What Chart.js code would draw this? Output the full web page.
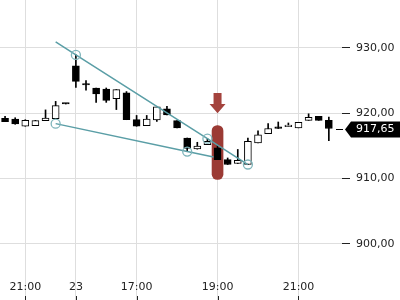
<!DOCTYPE html>
<html>
<head>
<meta charset="utf-8">
<script src="https://cdn.jsdelivr.net/npm/chart.js@4/dist/chart.umd.min.js"></script>
<style>
  html, body { margin: 0; padding: 0; background: #fff; }
</style>
</head>
<body>
<canvas id="chart" width="400" height="300"></canvas>
<script>
// 15 minute candles, left to right
const opens  = [919.2, 919.1, 918.0, 918.1, 918.85, 919.15, 921.45, 927.25, 924.35, 923.85, 923.7, 922.2, 923.1, 919.0, 918.1, 918.95, 920.65, 918.85, 916.2, 914.55, 915.2, 914.7, 912.9, 912.3, 912.15, 915.45, 916.85, 917.9, 917.95, 917.75, 918.9, 919.5, 918.9];
const highs  = [919.5, 919.3, 919.0, 918.9, 920.5, 921.8, 921.5, 928.9, 925.0, 923.85, 923.85, 923.6, 923.3, 919.65, 919.65, 920.95, 921.05, 918.85, 916.2, 915.55, 916.1, 915.1, 913.15, 914.45, 916.2, 917.3, 918.4, 918.65, 918.5, 918.6, 919.9, 919.5, 919.4];
const lows   = [918.7, 918.3, 918.0, 918.1, 918.85, 919.15, 921.4, 923.95, 923.5, 921.65, 921.65, 920.55, 919.0, 918.0, 918.1, 918.75, 919.75, 917.75, 914.15, 914.5, 915.2, 912.9, 912.15, 912.3, 912.15, 915.45, 916.85, 917.65, 917.95, 917.75, 918.9, 918.9, 915.8];
const closes = [918.7, 918.35, 918.9, 918.85, 919.25, 921.15, 921.4, 924.85, 924.3, 922.95, 921.95, 923.6, 919.0, 918.0, 919.1, 920.95, 919.75, 917.75, 914.6, 914.95, 915.7, 912.9, 912.15, 912.8, 915.7, 916.7, 917.65, 917.65, 918.1, 918.6, 919.35, 918.9, 917.65];

const tickIdx    = [2, 7, 13, 21, 29];
const tickLabels = ["21:00", "23", "17:00", "19:00", "21:00"];
const yTicks     = [900, 910, 920, 930];

// trend lines (candle index, price)
const upperX = [5, 7, 20, 24];
const upperY = [930.9, 928.9, 916.1, 912.15];
const lowerX = [5, 18, 20.6];
const lowerY = [918.4, 914.13, 913.3];

// signal marker
const markIdx = 21;
const markRange = [909.86, 918.1];
const arrowTop = 923.1;
const arrowTip = 920.0;

const lastPrice = 917.65;

const teal = "#5a9ea6";
const ring = "#7fb5bb";
const fmt = v => v.toFixed(2).replace(".", ",");

const extras = {
  id: "extras",
  afterDatasetsDraw(chart) {
    const { ctx, chartArea } = chart;
    const xs = chart.scales.x, ys = chart.scales.y;
    ctx.save();

    // arrow above the marker
    const ax = xs.getPixelForValue(markIdx);
    const y1 = ys.getPixelForValue(arrowTop);
    const y2 = ys.getPixelForValue(arrowTip);
    const mid = (y1 + y2) / 2 + 1;
    ctx.fillStyle = "#a4433d";
    ctx.beginPath();
    ctx.moveTo(ax - 4, y1);
    ctx.lineTo(ax + 4, y1);
    ctx.lineTo(ax + 4, mid);
    ctx.lineTo(ax + 8, mid);
    ctx.lineTo(ax, y2);
    ctx.lineTo(ax - 8, mid);
    ctx.lineTo(ax - 4, mid);
    ctx.closePath();
    ctx.fill();

    // small dark marks under the x labels
    ctx.strokeStyle = "#222";
    ctx.lineWidth = 1;
    tickIdx.forEach(i => {
      const px = Math.round(xs.getPixelForValue(i)) + 0.5;
      ctx.beginPath();
      ctx.moveTo(px, 296);
      ctx.lineTo(px, 300);
      ctx.stroke();
    });

    // last price tag
    const py = ys.getPixelForValue(lastPrice);
    const r = chartArea.right;
    ctx.strokeStyle = "#000";
    ctx.beginPath();
    ctx.moveTo(r - 6, Math.round(py) + 0.5);
    ctx.lineTo(r + 1, Math.round(py) + 0.5);
    ctx.stroke();
    const yc = py + 1;
    ctx.fillStyle = "#000";
    ctx.beginPath();
    ctx.moveTo(r + 3, yc);
    ctx.lineTo(r + 9, yc - 8);
    ctx.lineTo(400, yc - 8);
    ctx.lineTo(400, yc + 8);
    ctx.lineTo(r + 9, yc + 8);
    ctx.closePath();
    ctx.fill();
    ctx.fillStyle = "#fff";
    ctx.font = "11px 'DejaVu Sans'";
    ctx.textBaseline = "middle";
    ctx.textAlign = "left";
    ctx.fillText(fmt(lastPrice), r + 14, yc);
    ctx.restore();
  }
};

const idx = opens.map((_, i) => i);

new Chart(document.getElementById("chart").getContext("2d"), {
  type: "bar",
  data: {
    datasets: [
      {
        type: "line",
        data: upperX.map((x, i) => ({ x: x, y: upperY[i] })),
        borderColor: teal,
        borderWidth: 1.5,
        pointRadius: [0, 4.5, 4.5, 4.5],
        pointBorderColor: ring,
        pointBackgroundColor: "rgba(0,0,0,0)",
        pointBorderWidth: 1.3,
        order: 1,
      },
      {
        type: "line",
        data: lowerX.map((x, i) => ({ x: x, y: lowerY[i] })),
        borderColor: teal,
        borderWidth: 1.5,
        pointRadius: [4.5, 4.5, 0],
        pointBorderColor: ring,
        pointBackgroundColor: "rgba(0,0,0,0)",
        pointBorderWidth: 1.3,
        order: 1,
      },
      {
        data: idx.map(i => ({ x: i, y: [opens[i], closes[i]] })),
        backgroundColor: idx.map(i => (closes[i] >= opens[i] ? "#fff" : "#000")),
        borderColor: "#000",
        borderWidth: 1,
        borderSkipped: false,
        barThickness: 7,
        minBarLength: 1.5,
        grouped: false,
        order: 2,
      },
      {
        data: idx.map(i => ({ x: i, y: [lows[i], highs[i]] })),
        backgroundColor: "#000",
        barThickness: 1,
        grouped: false,
        order: 3,
      },
      {
        data: [{ x: markIdx, y: markRange }],
        backgroundColor: "#9b3a34",
        barThickness: 11,
        borderRadius: 6,
        borderSkipped: false,
        grouped: false,
        order: 4,
      },
    ],
  },
  options: {
    responsive: false,
    animation: false,
    layout: { padding: 0, autoPadding: false },
    plugins: { legend: { display: false }, tooltip: { enabled: false } },
    scales: {
      x: {
        type: "linear",
        min: -0.5,
        max: 33.3,
        offset: false,
        border: { display: false },
        grid: { offset: false, color: "#dedede", tickColor: "#dedede", tickLength: 22 },
        afterBuildTicks: s => { s.ticks = tickIdx.map(v => ({ value: v })); },
        afterFit: s => { s.height = 22; s.paddingLeft = 0; s.paddingRight = 0; },
        ticks: {
          padding: -19,
          maxRotation: 0,
          autoSkip: false,
          color: "#222",
          font: { family: "'DejaVu Sans'", size: 11 },
          callback: v => tickLabels[tickIdx.indexOf(v)] ?? "",
        },
      },
      y: {
        position: "right",
        min: 894.8,
        max: 937.3,
        border: { display: false },
        grid: { color: "#dedede", tickColor: "#222", tickLength: 8 },
        afterBuildTicks: s => { s.ticks = yTicks.map(v => ({ value: v })); },
        afterFit: s => { s.width = 58; s.paddingTop = 0; s.paddingBottom = 0; },
        ticks: {
          padding: 6,
          color: "#222",
          font: { family: "'DejaVu Sans'", size: 11 },
          callback: v => fmt(v),
        },
      },
    },
  },
  plugins: [extras],
});
</script>
</body>
</html>
